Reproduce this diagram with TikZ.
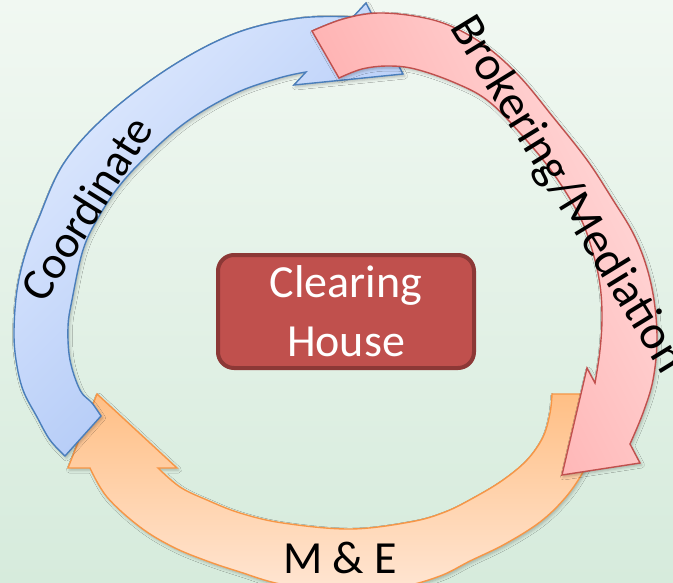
\documentclass[tikz,border=0pt]{standalone}
\usepackage{fontspec}
\setmainfont{Carlito}
\usetikzlibrary{shadows.blur}
\definecolor{bgtop}{HTML}{F1F8F2}
\definecolor{bgbot}{HTML}{D6EBDC}
\definecolor{blueline}{HTML}{4A7EBB}
\definecolor{bluelight}{HTML}{E0EAFE}
\definecolor{bluedark}{HTML}{A1BEF4}
\definecolor{redline}{HTML}{C0504D}
\definecolor{redlight}{HTML}{FFDADA}
\definecolor{reddark}{HTML}{FFA0A0}
\definecolor{orline}{HTML}{F79646}
\definecolor{ordark}{HTML}{FFBF85}
\definecolor{orlight}{HTML}{FFE6D4}
\definecolor{boxfill}{HTML}{C0504D}
\definecolor{boxline}{HTML}{8C3836}
\tikzset{
  arrowshape/.style={line width=1.4pt, line join=miter,
    blur shadow={shadow xshift=1.5pt, shadow yshift=-2pt, shadow blur radius=3pt, shadow opacity=25}},
  lbl/.style={font=\fontsize{46}{55}\selectfont, inner sep=0pt},
  edge/.style={smooth, tension=0.6},
}
\begin{document}
\begin{tikzpicture}[x=1pt,y=-1pt]
\useasboundingbox (0,0) rectangle (673,582);
\clip (0,0) rectangle (673,582);
\fill[top color=bgtop, bottom color=bgbot] (0,0) rectangle (673,582);
% orange arrow (M & E)
\path[arrowshape, draw=orline, top color=ordark, bottom color=orlight]
  (552,394) -- (604,394)
  -- plot[edge] coordinates {(604,394) (599,438) (583,472) (565,498) (540,522) (505,544) (470,561) (440,576) (400,587) (340,593) (280,584) (240,572) (207,561) (173,547) (140,527) (107,497) (90,468)}
  -- (68,468) -- (97,394) -- (177,468) -- (158,468)
  -- plot[edge] coordinates {(158,468) (180,487) (207,500) (240,513) (283,523) (350,529) (410,522) (445,512) (475,497) (503,480) (527,460) (543,437) (550,413) (552,394)}
  -- cycle;
% blue arrow (Coordinate)
\path[arrowshape, draw=blueline, top color=bluelight, bottom color=bluedark, shading angle=45]
  (101,416) -- (65,456)
  -- plot[edge] coordinates {(65,456) (50,440) (37,417) (23,390) (16,360) (14,330) (17,290) (25,255) (38,220) (64,163) (108,114) (172,66) (236,33) (300,18) (353,17)}
  -- (366,3) -- (403,74) -- (294,85) -- (306,72)
  -- plot[edge] coordinates {(306,72) (279,78) (236,93) (189,120) (150,153) (120,185) (98,218) (83,250) (72,300) (68,327) (70,360) (80,390) (92,403) (101,416)}
  -- cycle;
% red arrow (Brokering/Mediation)
\path[arrowshape, draw=redline, top color=redlight, bottom color=reddark, shading angle=-63]
  (339,78) -- (312,31)
  -- plot[edge] coordinates {(312,31) (343,19) (378,13) (420,17) (453,27) (487,47) (520,77) (553,117) (587,160) (613,200) (633,233) (646,265) (654,300) (657,340) (653,380) (643,413) (630,444)}
  -- (640,463) -- (562,475) -- (587,368) -- (595,383)
  -- plot[edge] coordinates {(595,383) (600,350) (602,317) (600,285) (593,253) (580,217) (553,173) (520,133) (487,100) (453,82) (415,69) (388,66) (362,69) (339,78)}
  -- cycle;
% centre box
\node[draw=boxline, line width=4pt, fill=boxfill, rounded corners=16pt,
      minimum width=256pt, minimum height=113pt, inner sep=0pt] (box) at (346,311.5) {};
\node[lbl, text=white, anchor=base] (cl) at (346,297) {Clearing};
\node[lbl, text=white, anchor=base] (ho) at (346,356) {House};
% labels
\node[lbl, rotate=58] (coord) at (86,208) {Coordinate};
\node[lbl, font=\fontsize{48}{57}\selectfont, rotate=-58.5] (brok) at (567,195) {Brokering/Mediation};
\node[lbl, anchor=base] (me) at (340,573) {M \& E};
\end{tikzpicture}
\end{document}
